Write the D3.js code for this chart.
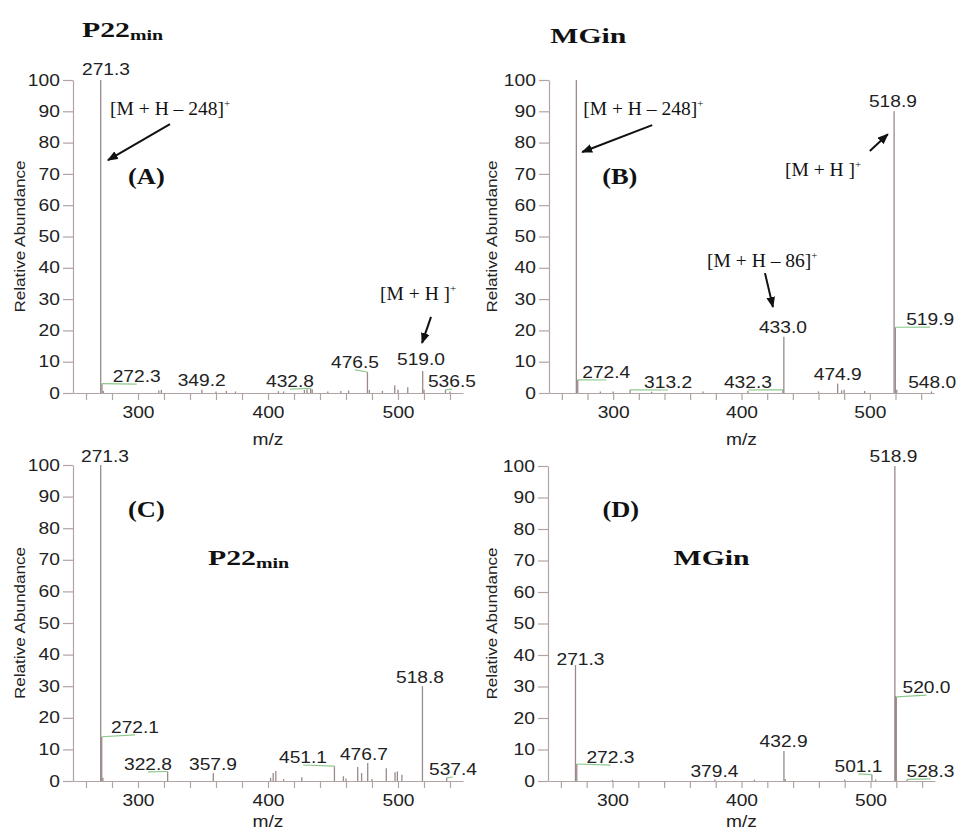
<!DOCTYPE html>
<html>
<head>
<meta charset="utf-8">
<script src="https://cdn.jsdelivr.net/npm/d3@7"></script>
<style>
    body { margin: 0; background: #fff; }
    svg { display: block; }
    .num { font-family: "Liberation Sans", Arial, sans-serif; font-size: 16px; fill: #222; }
    .ser { font-family: "Liberation Serif", "Times New Roman", serif; fill: #111; }
</style>
</head>
<body>
<svg id="chart" width="959" height="834"></svg>
<script>
// ── Axis settings ──
const xDomain = [250, 550];
const yTicks = d3.range(0, 101, 10);
const xTicks = d3.range(260, 541, 20);
const xLabels = [300, 400, 500];

// ── Peaks: [m/z, relative abundance] ──
const peaksA = [[271.3, 100], [272.3, 3], [273.3, 0.6], [316, 0.8], [318, 1], [349.2, 1], [360, 0.5], [368, 0.7],
    [375, 0.5], [408, 0.6], [412, 0.5], [428, 1], [430, 1.2], [432.8, 1.5], [434, 1.2], [446, 0.5], [456, 0.6],
    [462, 0.8], [476.5, 6.7], [478, 1], [488, 0.7], [497.5, 2.5], [500, 1], [507.5, 1.8], [519.0, 7], [520, 1],
    [536.5, 1], [540, 0.5]];
const peaksB = [[271.3, 100], [272.4, 4.2], [290, 0.5], [300, 0.5], [313.2, 1], [330, 0.4], [370, 0.5], [405, 0.6],
    [432.3, 1], [433.0, 18], [460, 0.5], [474.9, 3], [478, 0.8], [480, 1], [496, 0.6], [518.9, 90], [519.9, 21],
    [521, 1], [548.0, 0.5]];
const peaksC = [[271.3, 100], [272.1, 14], [273, 1], [322.8, 3], [357.9, 2.5], [402, 1], [404, 2.5], [406, 3.2],
    [412, 0.6], [426, 1.2], [451.1, 4.7], [458, 1.5], [460, 0.8], [469, 4.4], [472, 2.5], [476.7, 5.7], [480, 0.6],
    [491, 4], [497.7, 2.8], [499.5, 3], [503, 2], [518.8, 30], [537.4, 1]];
const peaksD = [[271.3, 36.8], [272.3, 5.4], [300, 0.3], [379.4, 0.5], [410, 0.4], [432.9, 9.5], [434, 0.6],
    [480, 0.5], [501.1, 2], [504, 0.5], [518.9, 100], [519.4, 27], [520.0, 26.7], [528.3, 0.5]];

// ── Peak labels: [text, peak m/z, peak abundance, label m/z, label baseline abundance, leader line] ──
const labelsA = [["271.3", 271.3, 100, 275.4, 101.6, 0], ["272.3", 272.3, 3, 299, 3.5, 1],
    ["349.2", 349.2, 1, 349, 2.2, 0], ["432.8", 432.8, 1.5, 416.9, 1.9, 1], ["476.5", 476.5, 6.7, 466.9, 8.0, 1],
    ["519.0", 519.0, 7, 517.7, 9.0, 0], ["536.5", 536.5, 1, 541.5, 1.9, 1]];
const labelsB = [["518.9", 518.9, 90, 518, 91.4, 0], ["272.4", 272.4, 4.2, 294.6, 4.8, 1],
    ["313.2", 313.2, 1, 342.8, 1.6, 1], ["432.3", 432.3, 1, 405, 1.6, 1], ["433.0", 433.0, 18, 432.3, 19.2, 0],
    ["474.9", 474.9, 3, 475, 4.2, 0], ["519.9", 519.9, 21, 547, 21.7, 1], ["548.0", 548.0, 0.5, 548.6, 1.6, 0]];
const labelsC = [["271.3", 271.3, 100, 274.6, 101, 0], ["272.1", 272.1, 14, 297.7, 15.2, 1],
    ["322.8", 322.8, 3, 307.7, 3.5, 1], ["357.9", 357.9, 2.5, 357.7, 3.5, 0], ["451.1", 451.1, 4.7, 426.9, 5.7, 1],
    ["476.7", 476.7, 5.7, 473.8, 6.6, 0], ["518.8", 518.8, 30, 516.9, 31, 0], ["537.4", 537.4, 1, 542.3, 1.9, 1]];
const labelsD = [["518.9", 518.9, 100, 517.8, 101.3, 0], ["520.0", 520.0, 26.7, 543.4, 27.9, 1],
    ["271.3", 271.3, 36.8, 275.2, 36.8, 0], ["272.3", 272.3, 5.4, 298.4, 5.7, 1], ["379.4", 379.4, 0.5, 379, 1.3, 0],
    ["432.9", 432.9, 9.5, 432.6, 10.8, 0], ["501.1", 501.1, 2, 490.7, 2.9, 1], ["528.3", 528.3, 0.5, 546.5, 1.3, 1]];

// ── Ion annotations: [text, superscript, m/z, abundance] and arrows: [from m/z, from ab., to m/z, to ab.] ──
const notesA = [["[M + H – 248]", "+", 278.5, 88.8], ["[M + H ]", "+", 486.2, 29.7]];
const arrowsA = [[324.6, 85.9, 276.9, 74.4], [525.4, 24.3, 518.5, 16]];
const notesB = [["[M + H – 248]", "+", 276.7, 88.8], ["[M + H ]", "+", 433.9, 69.3], ["[M + H – 86]", "+", 373.2, 40.3]];
const arrowsB = [[330.4, 85.6, 275.9, 77], [500, 77.3, 514, 82.7], [418.3, 38.3, 424.5, 27.5]];

// ── Panel tags and compound names: [text, subscript, m/z, abundance] ──
const tagsA = [["(A)", 292.3, 66.8]], tagsB = [["(B)", 291.4, 66.8]], tagsC = [["(C)", 292.3, 83.5]], tagsD = [["(D)", 292.2, 83.8]];
const namesA = [["P22", "min", 256.9, 113.7]], namesB = [["MGin", "", 251, 111.8]];
const namesC = [["P22", "min", 353.8, 68.4]], namesD = [["MGin", "", 347.3, 68.6]];

// pixel boxes of each plot area (x range for xDomain, y range for 0..100), y label x, m/z label offset
const panels = [
    { box: [73, 463, 393, 80], peaks: peaksA, labels: labelsA, notes: notesA, arrows: arrowsA, tags: tagsA, names: namesA, ylab: 25, mz: 52 },
    { box: [549, 934, 393, 80], peaks: peaksB, labels: labelsB, notes: notesB, arrows: arrowsB, tags: tagsB, names: namesB, ylab: 497, mz: 52 },
    { box: [73, 463, 781, 465], peaks: peaksC, labels: labelsC, notes: [], arrows: [], tags: tagsC, names: namesC, ylab: 25, mz: 46 },
    { box: [548, 935, 781, 466], peaks: peaksD, labels: labelsD, notes: [], arrows: [], tags: tagsD, names: namesD, ylab: 497, mz: 46 },
];

const axisColor = "#b3a3a3";
const peakColor = "#9a8a8a";
const leaderColor = "#8cc88c";

const svg = d3.select("#chart");

svg.append("defs").append("marker")
    .attr("id", "arrow")
    .attr("viewBox", "0 0 10 8")
    .attr("refX", 9).attr("refY", 4)
    .attr("markerWidth", 11).attr("markerHeight", 9)
    .attr("markerUnits", "userSpaceOnUse")
    .attr("orient", "auto")
    .append("path").attr("d", "M0,0 L10,4 L0,8 Z").attr("fill", "#111");

// text in a group so it can be stretched horizontally like the scanned figure
function placeText(parent, px, py, sx, cls, anchor) {
    return parent.append("g")
        .attr("transform", `translate(${px},${py}) scale(${sx},1)`)
        .append("text")
        .attr("class", cls)
        .attr("text-anchor", anchor);
}

panels.forEach(p => {
    const [x0, x1, y0, y1] = p.box;
    const x = d3.scaleLinear().domain(xDomain).range([x0, x1]);
    const y = d3.scaleLinear().domain([0, 100]).range([y0, y1]);
    const g = svg.append("g");

    // ── Axes ──
    const ya = g.append("g")
        .attr("transform", `translate(${x0},0)`)
        .call(d3.axisLeft(y).tickValues(yTicks).tickSize(10).tickSizeOuter(0).tickPadding(1));
    const xa = g.append("g")
        .attr("transform", `translate(0,${y0})`)
        .call(d3.axisBottom(x).tickValues(xTicks).tickSize(7).tickSizeOuter(0).tickPadding(7)
            .tickFormat(d => xLabels.includes(d) ? d : ""));
    [ya, xa].forEach(a => {
        a.selectAll("line, path").attr("stroke", axisColor).attr("stroke-width", 1.2);
        a.selectAll("text").attr("class", "num");
    });
    ya.selectAll("text").attr("transform", "scale(1.2,1)");
    xa.selectAll("text").attr("transform", "scale(1.2,1)");

    // axis titles
    svg.append("g")
        .attr("transform", `translate(${p.ylab},${(y0 + y1) / 2}) rotate(-90) scale(1.14,1)`)
        .append("text").attr("class", "num").style("font-size", "15px")
        .attr("text-anchor", "middle").text("Relative Abundance");
    placeText(g, x(400), y0 + p.mz, 1.2, "num", "middle").text("m/z");

    // ── Peaks ──
    g.append("g").selectAll("line")
        .data(p.peaks)
        .join("line")
        .attr("x1", d => x(d[0])).attr("x2", d => x(d[0]))
        .attr("y1", y(0)).attr("y2", d => y(d[1]))
        .attr("stroke", peakColor)
        .attr("stroke-width", 1.3);

    // ── Leader lines and peak labels ──
    g.append("g").selectAll("line")
        .data(p.labels.filter(d => d[5]))
        .join("line")
        .attr("x1", d => x(d[1])).attr("y1", d => y(d[2]))
        .attr("x2", d => x(d[3])).attr("y2", d => y(d[4]) + 2)
        .attr("stroke", leaderColor)
        .attr("stroke-width", 1.2);
    p.labels.forEach(d => {
        placeText(g, x(d[3]), y(d[4]), 1.2, "num", "middle").text(d[0]);
    });

    // ── Ion annotations ──
    p.notes.forEach(d => {
        const t = placeText(g, x(d[2]), y(d[3]), 1.0, "ser", "start").style("font-size", "19.5px");
        t.append("tspan").text(d[0]);
        t.append("tspan").attr("dy", -8).style("font-size", "11px").text(d[1]);
    });
    g.append("g").selectAll("line")
        .data(p.arrows)
        .join("line")
        .attr("x1", d => x(d[0])).attr("y1", d => y(d[1]))
        .attr("x2", d => x(d[2])).attr("y2", d => y(d[3]))
        .attr("stroke", "#111")
        .attr("stroke-width", 2)
        .attr("marker-end", "url(#arrow)");

    // ── Panel tag and compound name ──
    p.tags.forEach(d => {
        placeText(g, x(d[1]), y(d[2]), 1.15, "ser", "start")
            .style("font-size", "23px").style("font-weight", "bold").text(d[0]);
    });
    p.names.forEach(d => {
        const t = placeText(g, x(d[2]), y(d[3]), 1.42, "ser", "start")
            .style("font-size", "21px").style("font-weight", "bold");
        t.append("tspan").text(d[0]);
        if (d[1]) t.append("tspan").attr("dy", 3).style("font-size", "14px").text(d[1]);
    });
});
</script>
</body>
</html>
